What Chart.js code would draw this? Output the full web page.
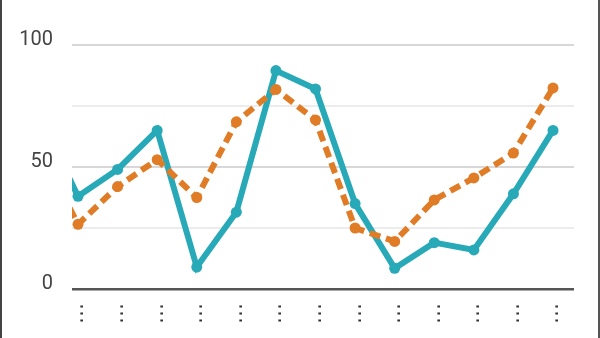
<!DOCTYPE html>
<html>
<head>
<meta charset="utf-8">
<script src="https://cdn.jsdelivr.net/npm/chart.js@4/dist/chart.umd.min.js"></script>
<style>
    html, body { margin: 0; padding: 0; background: #fff; }
    #wrap { position: relative; width: 600px; height: 338px; }
    #myChart { position: absolute; left: 0; top: 0; }
    #frame {
        position: absolute; left: 0; top: 0; width: 600px; height: 338px;
        box-sizing: border-box; border-left: 2px solid #444; border-right: 2px solid #555;
        pointer-events: none;
    }
</style>
</head>
<body>
<div id="wrap">
    <canvas id="myChart" width="600" height="338"></canvas>
    <div id="frame"></div>
</div>
<script>
"use strict";
// Ma'lumotlar
const categories = ['…', '…', '…', '…', '…', '…', '…', '…', '…', '…', '…', '…', '…', '…'];
const tealValues = [72, 38, 49, 65, 9, 31.5, 89.5, 82, 35, 8.5, 19, 16, 39, 65];
const orangeValues = [58, 26.5, 42, 53, 37.5, 68.5, 81.8, 69.3, 25, 19.5, 36.5, 45.5, 55.7, 82.4];
const yTicks = [0, 25, 50, 75, 100];
const yLabels = ['0', '', '50', '', '100'];

const toPoints = (arr) => arr.map((v, i) => ({ x: i, y: v }));

const data = {
    datasets: [
        {
            label: 'B',
            data: toPoints(orangeValues),
            borderColor: '#e07c26',
            backgroundColor: '#e07c26',
            borderWidth: 6,
            borderDash: [11, 6],
            pointRadius: 5.5,
            pointBorderWidth: 0,
            clip: 0
        },
        {
            label: 'A',
            data: toPoints(tealValues),
            borderColor: '#28a9b8',
            backgroundColor: '#28a9b8',
            borderWidth: 6,
            pointRadius: 5.5,
            pointBorderWidth: 0,
            clip: 0
        }
    ]
};

// config
const config = {
    type: 'line',
    data: data,
    options: {
        responsive: false,
        animation: false,
        layout: { padding: { top: 45, right: 26, left: 0, bottom: 0 } },
        plugins: { legend: { display: false }, tooltip: { enabled: false } },
        scales: {
            x: {
                type: 'linear',
                min: 0.848,
                max: 13.53,
                afterFit: (scale) => { scale.height = 49; },
                afterBuildTicks: (scale) => {
                    scale.ticks = categories.map((c, i) => ({ value: i })).filter(t => t.value >= 1);
                },
                grid: { display: false },
                border: { display: false },
                ticks: {
                    autoSkip: false,
                    minRotation: 90,
                    maxRotation: 90,
                    padding: 6,
                    color: '#333',
                    font: { size: 21, family: 'DejaVu Sans' },
                    callback: (v) => categories[v]
                }
            },
            y: {
                min: 0,
                max: 100,
                afterFit: (scale) => { scale.width = 72; },
                afterBuildTicks: (scale) => {
                    scale.ticks = yTicks.map(v => ({ value: v }));
                },
                border: { display: false },
                grid: {
                    drawTicks: false,
                    color: (ctx) => ctx.tick.value === 0 ? '#555' : (ctx.tick.value % 50 === 0 ? '#d8d8d8' : '#ececec'),
                    lineWidth: (ctx) => ctx.tick.value === 0 ? 2.5 : 2
                },
                ticks: {
                    padding: 19,
                    labelOffset: -5,
                    color: '#444',
                    font: { size: 20, family: 'Roboto' },
                    callback: (v) => yLabels[yTicks.indexOf(v)]
                }
            }
        }
    }
};

// render init block
const myChart = new Chart(document.getElementById('myChart'), config);
</script>
</body>
</html>
